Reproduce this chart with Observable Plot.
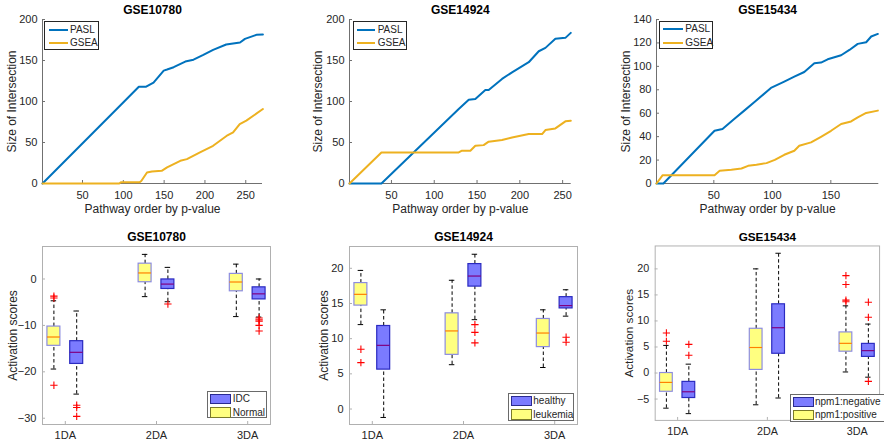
<!DOCTYPE html>
<html><head><meta charset="utf-8">
<script src="https://cdn.jsdelivr.net/npm/d3@7"></script>
<script src="https://cdn.jsdelivr.net/npm/@observablehq/plot@0.6"></script>
<style>
body{margin:0;background:#fff;}
#root{position:relative;width:884px;height:447px;overflow:hidden;font-family:"Liberation Sans",Arial,Helvetica,sans-serif;}
.leg{position:absolute;background:#fff;box-sizing:border-box;font-size:10px;color:#262626;}
.leg .it{position:absolute;box-sizing:border-box;}
.leg .tx{position:absolute;line-height:1;white-space:nowrap;transform:translateY(-50%);}
</style></head>
<body><div id="root"></div>
<script>
// ---------- Top row: size of intersection vs pathway order ----------
const gse10780_pasl_x = [1, 95, 119, 128, 137, 149.5, 153.6, 161.7, 175.9, 186, 198, 210, 226, 243, 249, 263, 271];
const gse10780_pasl_y = [0, 94, 118, 118, 123, 137.7, 139, 141.8, 148.7, 151, 156.8, 163, 169.5, 172, 176.4, 181.3, 181.7];
const gse10780_gsea_x = [1, 95, 97, 120, 122, 129, 135, 147, 153.6, 161.7, 169.8, 177.9, 193.9, 210, 226.4, 234.5, 242.6, 250.7, 271];
const gse10780_gsea_y = [0, 0, 1.5, 1.5, 3, 13.4, 14.7, 15.5, 19.6, 23.6, 27.7, 29.7, 37.9, 46, 58, 62.3, 72.5, 76.6, 90.8];

const gse14924_pasl_x = [1, 38.3, 128.6, 140.3, 148, 159.7, 163.6, 179.2, 190.9, 210.4, 222.1, 229.9, 241.5, 253.2, 259.5];
const gse14924_pasl_y = [0, 0, 90.8, 102.2, 103, 114, 114, 127.5, 135.6, 147.9, 161.3, 165.4, 176.4, 177.6, 183.7];
const gse14924_gsea_x = [1, 38.3, 128.6, 132.4, 142.2, 148, 157.7, 163.6, 179.2, 190.9, 210.4, 226, 229.9, 241.5, 253.2, 259.5];
const gse14924_gsea_y = [0, 37.9, 37.9, 40, 40, 46, 46.8, 51, 53, 56.2, 60.3, 60.3, 65.2, 67.2, 75.8, 76.6];

const gse15434_pasl_x = [1, 6.9, 50.6, 57.4, 67.4, 76, 84.5, 98.8, 110.2, 118.8, 127.3, 135.9, 141.6, 147.3, 158.8, 165.9, 173, 180.2, 184.5, 190.2];
const gse15434_pasl_y = [0, 0, 45, 46.5, 55, 62.2, 69.3, 81.6, 87, 91.2, 95.2, 102.7, 103.2, 106, 109.5, 114, 119.2, 120.6, 125.5, 127.7];
const gse15434_gsea_x = [1, 6.3, 50.6, 55, 65, 73.6, 79.3, 86.4, 95, 102.1, 110.2, 118.8, 123, 133.1, 141.6, 150.2, 158.8, 167.3, 173, 180.2, 190.2];
const gse15434_gsea_y = [0, 7.1, 7.1, 10.8, 11.7, 12.8, 15.1, 16, 17.4, 20.2, 24.5, 28, 32.2, 35.1, 39.9, 45, 50.8, 53, 56.5, 60.2, 62.2];

const lineSeriesNames = ["PASL", "GSEA"];
const topXTicks1 = [50, 100, 150, 200, 250];
const topXTicks3 = [50, 100, 150];
const topYTicks1 = [0, 50, 100, 150, 200];
const topYTicks3 = [0, 20, 40, 60, 80, 100, 120, 140];

// ---------- Bottom row: activation scores box plots ----------
const groupLabels = ["1DA", "2DA", "3DA"];

// GSE10780: yellow = Normal, blue = IDC
const b10780_yel_lo  = [-19.4, -3.8, -8.1];
const b10780_yel_q1  = [-14.4, -0.7, -2.65];
const b10780_yel_med = [-12.5, 1.3, -0.65];
const b10780_yel_q3  = [-10.25, 3.3, 1.1];
const b10780_yel_hi  = [-4.7, 5.3, 3.2];
const b10780_yel_out = [[-3.7, -4.1, -22.9], [], []];
const b10780_blu_lo  = [-24.8, -4.9, -8.2];
const b10780_blu_q1  = [-18.3, -2.15, -4.4];
const b10780_blu_med = [-15.8, -1.1, -3.2];
const b10780_blu_q3  = [-13.4, -0.1, -1.8];
const b10780_blu_hi  = [-6.9, 2.5, 0];
const b10780_blu_out = [[-27.2, -27.7, -29.6], [-5.4], [-8.4, -8.8, -9.1, -10, -11.2]];
const b10780_legend = ["IDC", "Normal"];
const b10780_yticks = [-30, -20, -10, 0];

// GSE14924: yellow = leukemia, blue = healthy
const b14924_yel_lo  = [12.0, 6.3, 5.9];
const b14924_yel_q1  = [14.7, 7.7, 8.8];
const b14924_yel_med = [16.3, 11.1, 10.8];
const b14924_yel_q3  = [17.9, 13.6, 12.8];
const b14924_yel_hi  = [19.7, 18.3, 14.1];
const b14924_yel_out = [[8.5, 6.6], [], []];
const b14924_blu_lo  = [-1.2, 12.7, 13.2];
const b14924_blu_q1  = [5.6, 17.4, 14.3];
const b14924_blu_med = [9.05, 18.9, 14.7];
const b14924_blu_q3  = [11.8, 20.6, 15.9];
const b14924_blu_hi  = [14.1, 22.0, 16.95];
const b14924_blu_out = [[], [12.0, 10.9, 9.4], [10.2, 9.5]];
const b14924_legend = ["healthy", "leukemia"];
const b14924_yticks = [0, 5, 10, 15, 20];

// GSE15434: yellow = npm1:positive, blue = npm1:negative
const b15434_yel_lo  = [-6.75, -6.1, 0.2];
const b15434_yel_q1  = [-3.6, 0.6, 4.1];
const b15434_yel_med = [-1.8, 4.9, 5.7];
const b15434_yel_q3  = [0, 8.5, 7.8];
const b15434_yel_hi  = [5.3, 20, 12.9];
const b15434_yel_out = [[7.7, 6.1], [], [18.7, 17.0, 14.0, 13.7]];
const b15434_blu_lo  = [-7.8, -4.8, -0.8];
const b15434_blu_q1  = [-4.8, 3.7, 3.1];
const b15434_blu_med = [-3.6, 8.7, 4.3];
const b15434_blu_q3  = [-1.7, 13.2, 5.6];
const b15434_blu_hi  = [1.7, 23, 9.4];
const b15434_blu_out = [[5.5, 3.4], [], [13.6, 10.7, -1.6]];
const b15434_legend = ["npm1:negative", "npm1:positive"];
const b15434_yticks = [-5, 0, 5, 10, 15, 20];

// ---------- styling ----------
const FONT = '"Liberation Sans", Arial, Helvetica, sans-serif';
const C_PASL = "#0072BD", C_GSEA = "#EDB120";
const YEL = {fill: "#ffff80", edge: "#8c8ce0", med: "#ff8000", legEdge: "#7a7a2a"};
const BLU = {fill: "#7b7bff", edge: "#2a2ac0", med: "#800080", legEdge: "#2a2a90"};
const root = document.getElementById("root");

function place(el, left, top) {
  const d = document.createElement("div");
  d.style.position = "absolute"; d.style.left = left + "px"; d.style.top = top + "px";
  d.appendChild(el); root.appendChild(d);
}

function linePanel(o) {
  const height = 220, mT = 19, mB = 37;
  const series = [
    {name: lineSeriesNames[0], color: C_PASL, x: o.paslX, y: o.paslY},
    {name: lineSeriesNames[1], color: C_GSEA, x: o.gseaX, y: o.gseaY}
  ];
  const p = Plot.plot({
    width: o.width, height, marginLeft: o.mL, marginRight: o.mR, marginTop: mT, marginBottom: mB,
    style: {fontFamily: FONT, fontSize: "11px", color: "#262626", background: "transparent", overflow: "visible"},
    x: {domain: o.xDomain}, y: {domain: o.yDomain},
    marks: [
      Plot.ruleY([o.yDomain[0]], {stroke: "#707070"}),
      Plot.ruleX([o.xDomain[0]], {stroke: "#707070"}),
      Plot.axisX({ticks: o.xTicks, tickSize: -3, tickPadding: 11, label: null, stroke: "#707070"}),
      Plot.axisY({ticks: o.yTicks, tickSize: -3, tickPadding: 8, label: null, stroke: "#707070"}),
      ...series.map(s => Plot.line(s.x.map((x, i) => ({x, y: s.y[i]})), {x: "x", y: "y", stroke: s.color, strokeWidth: 2})),
      Plot.text([o.title], {text: d => d, frameAnchor: "top", dy: -9, fontWeight: "bold", fontSize: 12, lineAnchor: "middle", fill: "#000"}),
      Plot.text(["Pathway order by p-value"], {text: d => d, frameAnchor: "bottom", dy: 26, fontSize: 12, lineAnchor: "middle", textAnchor: "middle"}),
      Plot.text(["Size of Intersection"], {text: d => d, frameAnchor: "left", dx: o.ylabDx, rotate: -90, fontSize: 12, lineAnchor: "middle", textAnchor: "middle"})
    ]
  });
  place(p, o.left, 0);
  const lg = document.createElement("div");
  lg.className = "leg";
  Object.assign(lg.style, {left: o.leg.left + "px", top: o.leg.top + "px", width: o.leg.w + "px", height: "28.5px", border: "1px solid #262626"});
  series.forEach((s, i) => {
    const cy = i === 0 ? 7.5 : 21;
    const ln = document.createElement("div"); ln.className = "it";
    Object.assign(ln.style, {left: o.leg.lx + "px", top: (cy - 1) + "px", width: o.leg.lw + "px", height: "2px", background: s.color});
    const t = document.createElement("div"); t.className = "tx"; t.textContent = s.name;
    Object.assign(t.style, {left: o.leg.tx + "px", top: cy + "px"});
    lg.appendChild(ln); lg.appendChild(t);
  });
  root.appendChild(lg);
}

function boxRows(lo, q1, med, q3, hi, off) {
  return groupLabels.map((g, i) => ({g: i + 1 + off, lo: lo[i], q1: q1[i], med: med[i], q3: q3[i], hi: hi[i]}));
}
function outRows(out, off) {
  return out.flatMap((vals, i) => vals.map(v => ({g: i + 1 + off, v})));
}

function boxPanel(o) {
  const height = 227, mT = 26, mB = 23;
  const OFF = 0.125, HW = 0.071, CAP = 0.03;
  const sets = [
    {rows: boxRows(...o.yel, -OFF), out: outRows(o.yelOut, -OFF), c: YEL},
    {rows: boxRows(...o.blu, +OFF), out: outRows(o.bluOut, +OFF), c: BLU}
  ];
  const marks = [
    Plot.frame({stroke: "#b0b0b0"}),
    Plot.axisX({ticks: [1, 2, 3], tickFormat: d => groupLabels[d - 1], tickSize: -3, tickPadding: 10, label: null, stroke: "#b0b0b0"}),
    Plot.axisY({ticks: o.yTicks, tickSize: -3, tickPadding: 9, label: null, stroke: "#b0b0b0"})
  ];
  for (const s of sets) {
    marks.push(
      Plot.ruleX(s.rows, {x: "g", y1: "q3", y2: "hi", stroke: "#000", strokeDasharray: "3.5,2.5"}),
      Plot.ruleX(s.rows, {x: "g", y1: "lo", y2: "q1", stroke: "#000", strokeDasharray: "3.5,2.5"}),
      Plot.ruleY(s.rows, {y: "hi", x1: d => d.g - CAP, x2: d => d.g + CAP, stroke: "#000"}),
      Plot.ruleY(s.rows, {y: "lo", x1: d => d.g - CAP, x2: d => d.g + CAP, stroke: "#000"}),
      Plot.rect(s.rows, {x1: d => d.g - HW, x2: d => d.g + HW, y1: "q1", y2: "q3", fill: s.c.fill, stroke: s.c.edge, strokeWidth: 1.2}),
      Plot.ruleY(s.rows, {y: "med", x1: d => d.g - HW, x2: d => d.g + HW, stroke: s.c.med, strokeWidth: 1.2}),
      Plot.dot(s.out, {x: "g", y: "v", symbol: "plus", r: 2.5, stroke: "#ff0000", strokeWidth: 1.1})
    );
  }
  marks.push(
    Plot.text([o.title], {text: d => d, frameAnchor: "top", dy: -9, fontWeight: "bold", fontSize: 12, lineAnchor: "middle", fill: "#000"}),
    Plot.text(["Activation scores"], {text: d => d, frameAnchor: "left", dx: o.ylabDx, rotate: -90, fontSize: 12, lineAnchor: "middle", textAnchor: "middle"})
  );
  const p = Plot.plot({
    width: o.width, height, marginLeft: o.mL, marginRight: o.mR, marginTop: mT, marginBottom: mB,
    style: {fontFamily: FONT, fontSize: "11px", color: "#262626", background: "transparent", overflow: "visible"},
    x: {domain: [0.75, 3.25]}, y: {domain: o.yDomain},
    marks
  });
  place(p, o.left, 220);
  const lg = document.createElement("div");
  lg.className = "leg";
  Object.assign(lg.style, {left: o.leg.left + "px", top: o.leg.top + "px", width: o.leg.w + "px", height: o.leg.h + "px", border: "1px solid #6a6a6a"});
  [BLU, YEL].forEach((c, i) => {
    const py = i === 0 ? 1.5 : 14.8;
    const pt = document.createElement("div"); pt.className = "it";
    Object.assign(pt.style, {left: o.leg.px + "px", top: py + "px", width: o.leg.pw + "px", height: "10.5px", background: c.fill, border: "1px solid " + c.legEdge});
    const t = document.createElement("div"); t.className = "tx"; t.textContent = o.legend[i];
    Object.assign(t.style, {left: o.leg.tx + "px", top: (py + 5.5) + "px"});
    lg.appendChild(pt); lg.appendChild(t);
  });
  root.appendChild(lg);
}

linePanel({left: 0, width: 295, mL: 42, mR: 33, xDomain: [1, 270.5], yDomain: [0, 200], xTicks: topXTicks1, yTicks: topYTicks1,
  title: "GSE10780", ylabDx: -30, paslX: gse10780_pasl_x, paslY: gse10780_pasl_y, gseaX: gse10780_gsea_x, gseaY: gse10780_gsea_y,
  leg: {left: 44.3, top: 21, w: 55, lx: 3.4, lw: 19, tx: 24.7}});
linePanel({left: 295, width: 295, mL: 54, mR: 19.3, xDomain: [1, 260], yDomain: [0, 200], xTicks: topXTicks1, yTicks: topYTicks1,
  title: "GSE14924", ylabDx: -31.3, paslX: gse14924_pasl_x, paslY: gse14924_pasl_y, gseaX: gse14924_gsea_x, gseaY: gse14924_gsea_y,
  leg: {left: 353.3, top: 21, w: 53.5, lx: 2.4, lw: 18.6, tx: 23.4}});
linePanel({left: 590, width: 294, mL: 66, mR: 5.7, xDomain: [1, 191], yDomain: [0, 140], xTicks: topXTicks3, yTicks: topYTicks3,
  title: "GSE15434", ylabDx: -30.3, paslX: gse15434_pasl_x, paslY: gse15434_pasl_y, gseaX: gse15434_gsea_x, gseaY: gse15434_gsea_y,
  leg: {left: 659.3, top: 20.7, w: 54, lx: 2.4, lw: 20, tx: 25}});

boxPanel({left: 0, width: 295, mL: 42, mR: 25, yDomain: [-31.35, 7], yTicks: b10780_yticks, title: "GSE10780", ylabDx: -29.4,
  yel: [b10780_yel_lo, b10780_yel_q1, b10780_yel_med, b10780_yel_q3, b10780_yel_hi], yelOut: b10780_yel_out,
  blu: [b10780_blu_lo, b10780_blu_q1, b10780_blu_med, b10780_blu_q3, b10780_blu_hi], bluOut: b10780_blu_out,
  legend: b10780_legend, leg: {left: 207.3, top: 391.3, w: 59.4, h: 26.5, px: 1.7, pw: 21.3, tx: 24.5}});
boxPanel({left: 295, width: 295, mL: 54, mR: 13, yDomain: [-2.2, 23.1], yTicks: b14924_yticks, title: "GSE14924", ylabDx: -25.7,
  yel: [b14924_yel_lo, b14924_yel_q1, b14924_yel_med, b14924_yel_q3, b14924_yel_hi], yelOut: b14924_yel_out,
  blu: [b14924_blu_lo, b14924_blu_q1, b14924_blu_med, b14924_blu_q3, b14924_blu_hi], bluOut: b14924_blu_out,
  legend: b14924_legend, leg: {left: 508.3, top: 393.3, w: 66, h: 27.4, px: 1.7, pw: 21, tx: 24}});
boxPanel({left: 590, width: 300, mL: 66, mR: 5, yDomain: [-9.1, 24.4], yTicks: b15434_yticks, title: "GSE15434", ylabDx: -26,
  yel: [b15434_yel_lo, b15434_yel_q1, b15434_yel_med, b15434_yel_q3, b15434_yel_hi], yelOut: b15434_yel_out,
  blu: [b15434_blu_lo, b15434_blu_q1, b15434_blu_med, b15434_blu_q3, b15434_blu_hi], bluOut: b15434_blu_out,
  legend: b15434_legend, leg: {left: 790, top: 394, w: 100, h: 28, px: 2.3, pw: 20.4, tx: 24}});
</script></body></html>
